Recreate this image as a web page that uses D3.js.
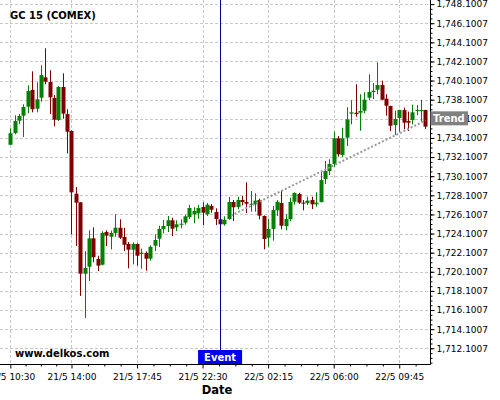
<!DOCTYPE html>
<html><head><meta charset="utf-8">
<script src="https://cdn.jsdelivr.net/npm/d3@7"></script>
<style>
body{margin:0;background:#fff;}
svg{display:block;font-family:"DejaVu Sans",sans-serif;}
</style></head>
<body><svg id="c" width="500" height="400"></svg>
<script>
// OHLC per 15-minute bar (index-based x axis)
const opens  = [1733.39,1734.62,1735.90,1736.43,1737.37,1739.12,1737.16,1738.31,1740.44,1739.95,1738.28,1735.98,1739.43,1736.60,1734.83,1728.27,1727.37,1719.90,1720.63,1723.60,1721.44,1720.84,1724.26,1723.77,1724.16,1724.71,1723.74,1723.01,1722.41,1723.01,1721.96,1722.07,1721.47,1722.83,1723.56,1724.58,1724.89,1725.49,1724.75,1725.03,1725.24,1725.83,1726.11,1726.22,1726.88,1726.11,1726.98,1726.35,1725.59,1725.07,1725.62,1727.40,1726.88,1727.61,1727.40,1727.12,1727.16,1727.61,1725.94,1723.67,1724.58,1726.53,1727.30,1724.89,1725.62,1727.43,1728.24,1727.33,1727.30,1727.61,1727.16,1727.40,1729.81,1730.64,1731.38,1734.06,1732.32,1734.13,1736.64,1736.74,1736.74,1736.95,1738.31,1738.91,1739.15,1739.64,1738.21,1737.44,1735.45,1736.19,1737.02,1735.87,1735.98,1736.95,1736.95,1737.02];
const highs  = [1735.11,1736.47,1736.60,1737.62,1739.61,1741.07,1739.92,1741.70,1743.48,1741.18,1738.59,1739.53,1740.86,1737.10,1734.90,1728.97,1727.40,1722.24,1724.44,1724.75,1721.78,1724.34,1724.44,1724.40,1726.11,1725.59,1724.71,1723.22,1723.18,1723.08,1722.52,1722.24,1722.87,1724.02,1724.92,1725.52,1725.94,1725.76,1725.49,1725.59,1726.07,1727.09,1726.85,1727.09,1727.37,1727.30,1727.19,1726.74,1725.94,1725.90,1727.92,1727.61,1727.95,1728.03,1729.46,1728.55,1728.31,1727.75,1726.00,1725.65,1726.98,1727.61,1728.58,1726.11,1727.85,1728.41,1728.37,1727.61,1727.95,1727.95,1728.41,1730.57,1731.69,1731.87,1734.75,1734.30,1735.17,1737.31,1738.04,1739.71,1738.67,1738.88,1740.76,1739.85,1742.01,1740.09,1738.67,1737.47,1736.95,1737.05,1737.27,1736.85,1737.58,1737.55,1738.07,1737.05];
const lows   = [1733.36,1734.48,1735.53,1734.20,1736.68,1736.78,1736.78,1737.89,1739.71,1736.60,1735.32,1735.87,1736.11,1732.49,1724.02,1722.80,1717.57,1715.27,1719.14,1721.09,1720.18,1720.78,1722.80,1722.45,1723.77,1723.53,1722.27,1720.46,1720.88,1720.74,1720.42,1720.21,1721.26,1722.27,1722.69,1724.13,1724.26,1723.84,1724.37,1724.65,1725.03,1725.62,1725.17,1725.65,1724.99,1725.94,1726.28,1724.99,1724.99,1724.92,1725.55,1725.41,1726.64,1727.05,1726.25,1726.39,1726.39,1725.59,1722.45,1722.72,1723.35,1725.94,1724.54,1724.44,1725.38,1727.12,1727.19,1726.53,1727.09,1726.67,1726.91,1727.35,1729.28,1730.22,1731.09,1732.14,1732.11,1733.26,1735.53,1736.32,1734.86,1736.68,1738.04,1738.17,1738.67,1738.07,1736.43,1734.83,1734.41,1734.75,1735.00,1734.83,1735.53,1736.50,1735.80,1735.04];
const closes = [1734.59,1735.87,1736.40,1737.34,1739.01,1737.10,1738.14,1740.68,1739.98,1738.35,1736.01,1739.43,1736.64,1734.75,1728.41,1727.33,1719.90,1720.50,1723.60,1721.62,1720.74,1724.16,1723.88,1724.16,1724.71,1723.67,1722.93,1722.41,1723.01,1721.78,1722.10,1721.47,1722.72,1723.43,1724.58,1724.89,1725.49,1724.61,1725.07,1725.13,1725.90,1726.77,1726.46,1726.77,1726.28,1727.12,1726.59,1725.62,1725.07,1725.55,1727.40,1726.85,1727.61,1727.40,1727.22,1727.22,1727.54,1725.97,1723.53,1724.58,1726.56,1727.43,1724.92,1725.62,1727.40,1728.34,1727.33,1727.26,1727.54,1727.16,1727.33,1729.70,1730.64,1731.38,1734.06,1732.39,1734.06,1736.05,1736.78,1736.60,1736.92,1738.10,1738.91,1739.04,1739.64,1738.10,1737.47,1735.38,1736.08,1737.02,1735.70,1735.70,1736.78,1737.02,1737.02,1735.28];

const xTickIndex  = [0,14,29,44,59,74,89];
const xTickLabels = ["21/5 10:30","21/5 14:00","21/5 17:45","21/5 22:30","22/5 02:15","22/5 06:00","22/5 09:45"];
const yTicks = d3.range(19).map(k => 1712.1007 + 2*k);

const eventIndex = 48;
const trendStart = [50.5, 1725.98];
const trendEnd   = [95, 1735.92];

const title = "GC 15 (COMEX)";
const watermark = "www.delkos.com";

const W = 430, H = 364;
const svg = d3.select("#c");
const x = d3.scaleLinear().domain([-2.36, 96.04]).range([0, W]);
const y = d3.scaleLinear().domain([1710.455, 1748.53]).range([H, 0]);

// grid
const grid = svg.append("g").attr("stroke","#c8c8c8").attr("stroke-dasharray","3,2").attr("stroke-width",1);
yTicks.forEach(v => grid.append("line").attr("x1",0).attr("x2",W).attr("y1",Math.round(y(v))+0.5).attr("y2",Math.round(y(v))+0.5));
xTickIndex.forEach(i => grid.append("line").attr("y1",0).attr("y2",H).attr("x1",Math.round(x(i))+0.5).attr("x2",Math.round(x(i))+0.5));

// candles
const data = opens.map((o,i)=>({i,o,h:highs[i],l:lows[i],c:closes[i]}));
const bw = 4;
const cg = svg.append("g");
data.forEach(d => {
  const col = d.c >= d.o ? "#008000" : "#800000";
  const cx = Math.round(x(d.i));
  cg.append("line").attr("x1",cx+0.5).attr("x2",cx+0.5).attr("y1",y(d.h)).attr("y2",y(d.l)).attr("stroke",col).attr("stroke-width",1);
  const top = y(Math.max(d.o,d.c)), bot = y(Math.min(d.o,d.c));
  cg.append("rect").attr("x",cx-1.5).attr("width",bw).attr("y",top).attr("height",Math.max(1,bot-top)).attr("fill",col);
});

// trend line
svg.append("line")
  .attr("x1",x(trendStart[0])).attr("y1",y(trendStart[1]))
  .attr("x2",x(trendEnd[0])).attr("y2",y(trendEnd[1]))
  .attr("stroke","#999").attr("stroke-width",2).attr("stroke-dasharray","2,2");

// event line
svg.append("line").attr("x1",Math.round(x(eventIndex))+0.5).attr("x2",Math.round(x(eventIndex))+0.5)
  .attr("y1",0).attr("y2",H).attr("stroke","#000088").attr("stroke-width",1);

// axes
const yAxis = d3.axisRight(y).tickValues(yTicks).tickSize(4).tickSizeOuter(0).tickPadding(2)
  .tickFormat(d3.format(",.4f"));
const yMinor = d3.range(0, 19*4+4).map(k => 1710.1007 + 0.5*k).filter(v => v>y.domain()[0] && v<y.domain()[1]);
svg.append("g").attr("transform",`translate(${W+0.5},0)`)
  .call(d3.axisRight(y).tickValues(yMinor).tickSize(2).tickSizeOuter(0).tickFormat(""))
  .call(g=>g.select(".domain").remove());
const gy = svg.append("g").attr("transform",`translate(${W+0.5},0)`).call(yAxis);
gy.selectAll("text").attr("font-size",9).attr("font-family","DejaVu Sans").attr("fill","#000");

const xMinorVals = [];
for (let k=0;k<xTickIndex.length;k++){
  const a = xTickIndex[k], b = k<xTickIndex.length-1 ? xTickIndex[k+1] : xTickIndex[k]+15;
  for (let j=1;j<4;j++){ const v = a + (b-a)*j/4; if (x(v) < W) xMinorVals.push(v); }
}
svg.append("g").attr("transform",`translate(0,${H+0.5})`)
  .call(d3.axisBottom(x).tickValues(xMinorVals).tickSize(2).tickSizeOuter(0).tickFormat(""))
  .call(g=>g.select(".domain").remove());
const gx = svg.append("g").attr("transform",`translate(0,${H+0.5})`)
  .call(d3.axisBottom(x).tickValues(xTickIndex).tickSize(4).tickSizeOuter(0).tickPadding(5)
    .tickFormat((d,i)=>xTickLabels[i]));
gx.selectAll("text").attr("font-size",9).attr("font-family","DejaVu Sans").attr("fill","#000");
svg.selectAll(".domain").attr("stroke","#000");
gx.select(".domain").attr("d",`M0,0H${W+0.5}`);
gy.select(".domain").attr("d",`M0,0V${H+0.5}`);

// title & watermark
svg.append("text").attr("x",10).attr("y",19).attr("font-size",10).attr("font-weight","bold").text(title);
svg.append("text").attr("x",15).attr("y",357).attr("font-size",10).attr("font-weight","bold").text(watermark);
svg.append("text").attr("x",217).attr("y",393.5).attr("text-anchor","middle").attr("font-size",11.5).attr("font-weight","bold").text("Date");

// event box
const ex = x(eventIndex);
svg.append("rect").attr("x",ex-22).attr("y",350).attr("width",44).attr("height",14).attr("fill","#0000ee");
svg.append("text").attr("x",ex).attr("y",361).attr("text-anchor","middle").attr("fill","#fff")
  .attr("font-size",10).attr("font-weight","bold").text("Event");

// trend box
const slope = (trendEnd[1]-trendStart[1])/(trendEnd[0]-trendStart[0]);
const tv = trendEnd[1] + slope*(x.invert(W)-trendEnd[0]);
const ty = y(tv);
svg.append("rect").attr("x",W+0.5).attr("y",ty-7).attr("width",37.5).attr("height",14).attr("fill","#808080");
svg.append("text").attr("x",W+3).attr("y",ty+3.8).attr("fill","#fff")
  .attr("font-size",10).attr("font-weight","bold").text("Trend");
</script></body></html>
